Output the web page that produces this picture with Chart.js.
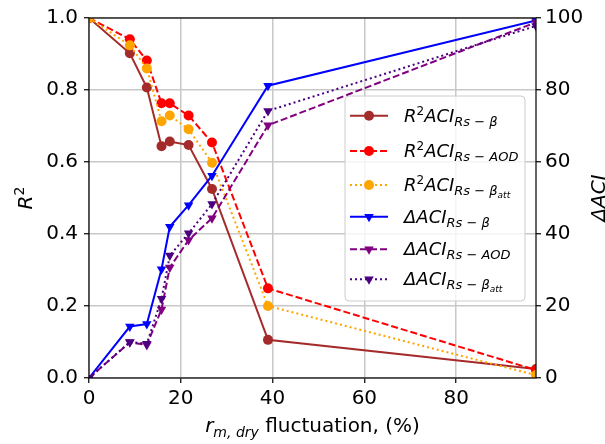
<!DOCTYPE html>
<html lang="en">
<head>
    <meta charset="UTF-8">
    <title>R2 / ACI vs r_m,dry fluctuation</title>
    <script src="https://cdn.jsdelivr.net/npm/chart.js"></script>
    <style>
        body { margin: 0; background: #fff; }
        canvas { display: block; }
    </style>
</head>
<body>
    <canvas id="grafico" width="605" height="444"></canvas>

    <script>
        // x: r_m,dry fluctuation (%)
        const fluctuation = [0, 8.9, 12.6, 15.8, 17.6, 21.7, 26.8, 39.0, 97.4];

        // R^2 (left axis)
        const r2Beta    = [1.0, 0.902, 0.807, 0.644, 0.657, 0.647, 0.525, 0.106, 0.025];
        const r2Aod     = [1.0, 0.941, 0.882, 0.763, 0.763, 0.729, 0.654, 0.249, 0.022];
        const r2BetaAtt = [1.0, 0.924, 0.860, 0.713, 0.729, 0.691, 0.598, 0.200, 0.008];

        // Delta ACI (right axis)
        const dAciBeta    = [0, 14.3, 15.0, 30.2, 42.0, 48.0, 56.2, 81.2, 99.3];
        const dAciAod     = [0, 9.9, 9.2, 19.0, 30.7, 38.3, 44.4, 70.2, 98.8];
        const dAciBetaAtt = [0, 10.0, 9.5, 22.0, 34.0, 40.2, 48.3, 74.2, 97.8];

        const xTicks = [0, 20, 40, 60, 80];
        const r2Ticks = [0, 0.2, 0.4, 0.6, 0.8, 1.0];
        const aciTicks = [0, 20, 40, 60, 80, 100];

        const FONT = 'DejaVu Sans';
        const it = s => `italic ${s}px "${FONT}"`;
        const up = s => `${s}px "${FONT}"`;

        const pontos = arr => fluctuation.map((x, i) => ({ x: x, y: arr[i] }));

        const series = [
            { data: r2Beta,      color: '#a52a2a', dash: [],     marker: 'circle',   axis: 'y' },
            { data: r2Aod,       color: '#ff0000', dash: [7, 3], marker: 'circle',   axis: 'y' },
            { data: r2BetaAtt,   color: '#ffa500', dash: [2, 3], marker: 'circle',   axis: 'y' },
            { data: dAciBeta,    color: '#0000ff', dash: [],     marker: 'triangle', axis: 'y2' },
            { data: dAciAod,     color: '#800080', dash: [7, 3], marker: 'triangle', axis: 'y2' },
            { data: dAciBetaAtt, color: '#4b0082', dash: [2, 3], marker: 'triangle', axis: 'y2' }
        ];

        // legend text, mathtext-like runs: [text, font, baseline shift]
        const legendLabels = [
            [['R', it(18)], ['2', up(12), -7], ['ACI', it(18)], ['Rs', it(13), 4], [' \u2212 ', up(13), 4], ['\u03b2', it(13), 4]],
            [['R', it(18)], ['2', up(12), -7], ['ACI', it(18)], ['Rs', it(13), 4], [' \u2212 ', up(13), 4], ['AOD', it(13), 4]],
            [['R', it(18)], ['2', up(12), -7], ['ACI', it(18)], ['Rs', it(13), 4], [' \u2212 ', up(13), 4], ['\u03b2', it(13), 4], ['att', it(9), 7]],
            [['\u0394ACI', it(18)], ['Rs', it(13), 4], [' \u2212 ', up(13), 4], ['\u03b2', it(13), 4]],
            [['\u0394ACI', it(18)], ['Rs', it(13), 4], [' \u2212 ', up(13), 4], ['AOD', it(13), 4]],
            [['\u0394ACI', it(18)], ['Rs', it(13), 4], [' \u2212 ', up(13), 4], ['\u03b2', it(13), 4], ['att', it(9), 7]]
        ];
        const legendRowsY = [115.7, 151, 185, 216.7, 249.3, 279.3];

        function runsWidth(ctx, runs) {
            let w = 0;
            for (const r of runs) { ctx.font = r[1]; w += ctx.measureText(r[0]).width; }
            return w;
        }
        function drawRuns(ctx, runs, x, y) {
            for (const r of runs) {
                ctx.font = r[1];
                ctx.fillText(r[0], x, y + (r[2] || 0));
                x += ctx.measureText(r[0]).width;
            }
        }
        function drawMarker(ctx, kind, x, y, color) {
            ctx.fillStyle = color;
            ctx.beginPath();
            if (kind === 'circle') {
                ctx.arc(x, y, 5, 0, Math.PI * 2);
            } else {
                const r = 5.5;
                ctx.moveTo(x, y + r);
                ctx.lineTo(x - r * 0.866, y - r * 0.5);
                ctx.lineTo(x + r * 0.866, y - r * 0.5);
                ctx.closePath();
            }
            ctx.fill();
        }

        const extras = {
            id: 'extras',
            afterDatasetsDraw(chart) {
                const ctx = chart.ctx;
                const a = chart.chartArea;
                ctx.save();
                // spines
                ctx.strokeStyle = '#000';
                ctx.lineWidth = 1.2;
                ctx.setLineDash([]);
                ctx.strokeRect(a.left, a.top, a.right - a.left, a.bottom - a.top);

                // axis titles
                ctx.fillStyle = '#000';
                ctx.textBaseline = 'alphabetic';
                const xTitle = [['r', it(20)], ['m, dry', it(14), 5], [' fluctuation, (%)', up(20)]];
                const xw = runsWidth(ctx, xTitle);
                drawRuns(ctx, xTitle, (a.left + a.right) / 2 - xw / 2, 431.7);

                const yTitle = [['R', it(20)], ['2', up(14), -8]];
                ctx.save();
                ctx.translate(32, (a.top + a.bottom) / 2);
                ctx.rotate(-Math.PI / 2);
                drawRuns(ctx, yTitle, -runsWidth(ctx, yTitle) / 2, 0);
                ctx.restore();

                const y2Title = [['\u0394ACI', it(20)]];
                ctx.save();
                ctx.translate(605, (a.top + a.bottom) / 2);
                ctx.rotate(-Math.PI / 2);
                drawRuns(ctx, y2Title, -runsWidth(ctx, y2Title) / 2, 0);
                ctx.restore();

                // legend
                const bx = 345, by = 96, bw = 180, bh = 205;
                ctx.beginPath();
                ctx.roundRect(bx, by, bw, bh, 4);
                ctx.fillStyle = 'rgba(255,255,255,0.8)';
                ctx.fill();
                ctx.strokeStyle = '#cccccc';
                ctx.lineWidth = 1;
                ctx.stroke();

                series.forEach((s, i) => {
                    const y = legendRowsY[i];
                    ctx.strokeStyle = s.color;
                    ctx.lineWidth = 2;
                    ctx.setLineDash(s.dash);
                    ctx.beginPath();
                    ctx.moveTo(350, y);
                    ctx.lineTo(388, y);
                    ctx.stroke();
                    ctx.setLineDash([]);
                    drawMarker(ctx, s.marker, 369, y, s.color);
                    ctx.fillStyle = '#000';
                    drawRuns(ctx, legendLabels[i], 404, y + 6);
                });
                ctx.restore();
            }
        };

        const tickFont = { family: FONT, size: 20 };
        const gridCfg = { color: '#c8c8c8', lineWidth: 1.5, tickColor: '#000', tickLength: 5, tickWidth: 1.2 };

        new Chart(document.getElementById('grafico').getContext('2d'), {
            type: 'line',
            data: {
                datasets: series.map((s, i) => ({
                    data: pontos(s.data),
                    yAxisID: s.axis,
                    borderColor: s.color,
                    backgroundColor: s.color,
                    borderWidth: 2,
                    borderDash: s.dash,
                    pointStyle: s.marker,
                    pointRadius: s.marker === 'circle' ? 5 : 5.5,
                    pointRotation: s.marker === 'circle' ? 0 : 180,
                    pointBorderWidth: 0,
                    fill: false,
                    tension: 0,
                    order: series.length - i
                }))
            },
            options: {
                responsive: false,
                animation: false,
                devicePixelRatio: 1,
                layout: { padding: { top: 18, left: 0, right: 0, bottom: 0 } },
                plugins: { legend: { display: false }, tooltip: { enabled: false } },
                scales: {
                    x: {
                        type: 'linear', min: 0, max: 97.4,
                        afterBuildTicks: s => { s.ticks = xTicks.map(v => ({ value: v })); },
                        afterFit: s => { s.height = 66; },
                        grid: gridCfg,
                        border: { display: false },
                        ticks: { font: tickFont, color: '#000', padding: 4, maxRotation: 0, autoSkip: false }
                    },
                    y: {
                        position: 'left', min: 0, max: 1,
                        afterBuildTicks: s => { s.ticks = r2Ticks.map(v => ({ value: v })); },
                        afterFit: s => { s.width = 89; },
                        grid: gridCfg,
                        border: { display: false },
                        ticks: { font: tickFont, color: '#000', padding: 6, callback: v => v.toFixed(1) }
                    },
                    y2: {
                        position: 'right', min: 0, max: 100,
                        afterBuildTicks: s => { s.ticks = aciTicks.map(v => ({ value: v })); },
                        afterFit: s => { s.width = 69; },
                        grid: Object.assign({}, gridCfg, { drawOnChartArea: false }),
                        border: { display: false },
                        ticks: { font: tickFont, color: '#000', padding: 4 }
                    }
                }
            },
            plugins: [extras]
        });
    </script>
</body>
</html>
